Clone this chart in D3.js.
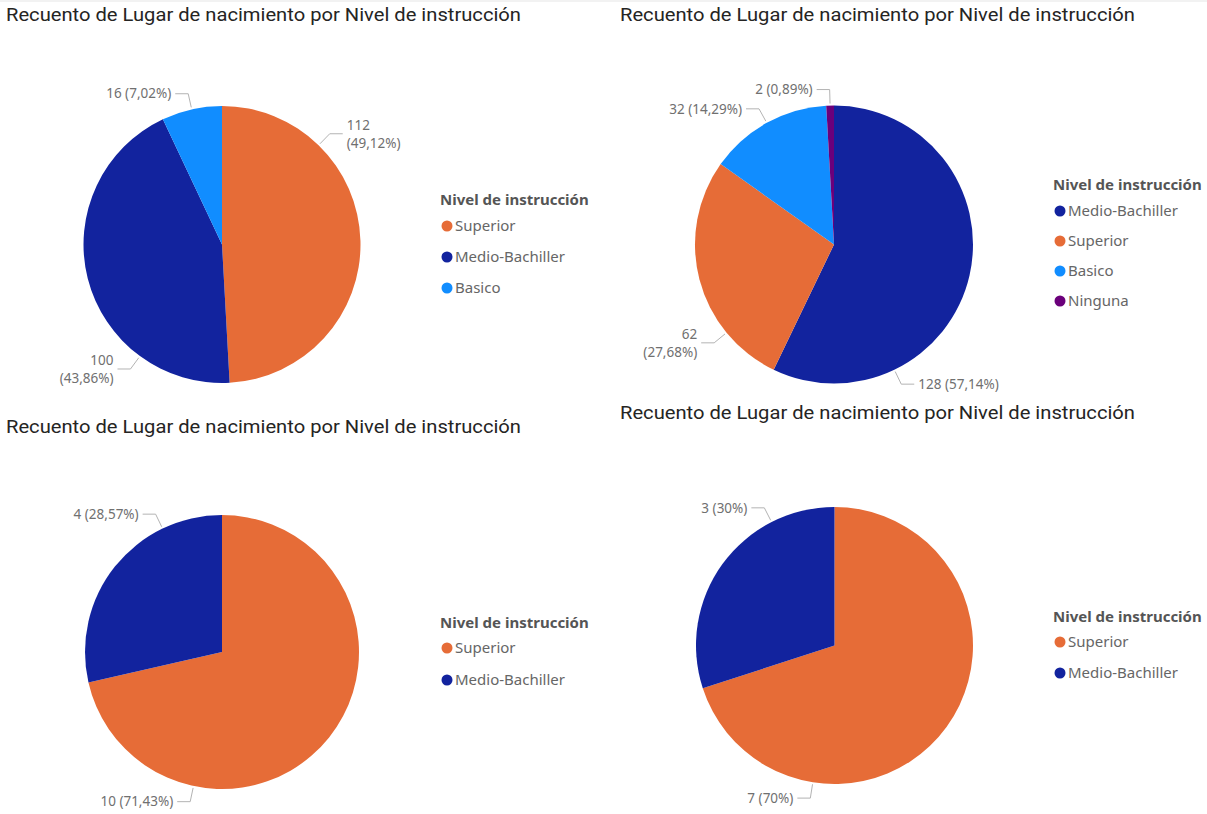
<!DOCTYPE html>
<html><head><meta charset="utf-8">
<script src="https://cdn.jsdelivr.net/npm/d3@7"></script>
<style>body{margin:0;background:#fff}svg{display:block}</style>
</head><body>
<svg id="chart" width="1207" height="814"></svg>
<script>
// ---- data ----
const chartTitle = "Recuento de Lugar de nacimiento por Nivel de instrucción";
const legendTitle = "Nivel de instrucción";
const allCategories = ["Superior", "Medio-Bachiller", "Basico", "Ninguna"];
const categoryColors = ["#E66C37", "#12239E", "#118DFF", "#6B007B"];

const categories1 = ["Superior", "Medio-Bachiller", "Basico"];
const values1 = [112, 100, 16];
const categories2 = ["Medio-Bachiller", "Superior", "Basico", "Ninguna"];
const values2 = [128, 62, 32, 2];
const categories3 = ["Superior", "Medio-Bachiller"];
const values3 = [10, 4];
const categories4 = ["Superior", "Medio-Bachiller"];
const values4 = [7, 3];

// ---- layout ----
const panels = [
  {cats: categories1, vals: values1, tx: 6, ty: 21, cx: 222, cy: 244.5, r: 138.5, lx: 440, lty: 200, ly: 226, ls: 31},
  {cats: categories2, vals: values2, tx: 620, ty: 21, cx: 834, cy: 244.5, r: 139, lx: 1053, lty: 185, ly: 211, ls: 30},
  {cats: categories3, vals: values3, tx: 6, ty: 433, cx: 222, cy: 652, r: 137, lx: 440, lty: 623, ly: 648, ls: 32},
  {cats: categories4, vals: values4, tx: 620, ty: 419, cx: 834.5, cy: 645.5, r: 138.5, lx: 1053, lty: 617, ly: 642, ls: 31}
];

const svg = d3.select("#chart");
svg.append("rect").attr("x", 0).attr("y", 0).attr("width", 1207).attr("height", 2).attr("fill", "#f2f2f2");

const color = d3.scaleOrdinal().domain(allCategories).range(categoryColors);
const pctFmt = d3.format(".2~f");
const TAU = Math.PI * 2;
const deg = Math.PI / 180;

panels.forEach(p => {
  const g = svg.append("g");
  g.append("text").attr("x", p.tx).attr("y", p.ty)
    .attr("font-family", "Roboto, 'Noto Sans', sans-serif").attr("font-size", 18)
    .attr("fill", "#252423").attr("textLength", 515).attr("lengthAdjust", "spacingAndGlyphs")
    .text(chartTitle);

  const data = p.cats.map((c, i) => ({cat: c, val: p.vals[i]}));
  const total = d3.sum(data, d => d.val);
  const arcs = d3.pie().sort(null).value(d => d.val)(data);
  const arc = d3.arc().innerRadius(0).outerRadius(p.r);
  const pg = g.append("g").attr("transform", `translate(${p.cx},${p.cy})`);
  pg.selectAll("path").data(arcs).join("path")
    .attr("d", arc).attr("fill", d => color(d.data.cat));

  // labels
  arcs.forEach(a => {
    const span = a.endAngle - a.startAngle;
    const mid = (a.startAngle + a.endAngle) / 2;
    let ang;
    if (span < 60 * deg) ang = mid;
    else {
      const topT = -12 * deg, botT = 192 * deg;
      const dTop = Math.min(Math.abs(mid - 0), Math.abs(mid - TAU));
      const dBot = Math.abs(mid - Math.PI);
      let target = dTop <= dBot ? (mid > Math.PI ? TAU + topT : topT) : botT;
      const m = span / 4;
      ang = Math.max(a.startAngle + m, Math.min(a.endAngle - m, target));
    }
    const sx = Math.sin(ang), sy = -Math.cos(ang);
    const p0 = [sx * (p.r + 2), sy * (p.r + 2)];
    const p1 = [sx * (p.r + 16), sy * (p.r + 16)];
    const dir = sx >= 0 ? 1 : -1;
    const p2 = [p1[0] + dir * 13, p1[1]];
    pg.append("polyline").attr("points", [p0, p1, p2].map(q => q.join(",")).join(" "))
      .attr("fill", "none").attr("stroke", "#b3b3b3").attr("stroke-width", 1);
    const pct = pctFmt(a.data.val / total * 100).replace(".", ",");
    const t = pg.append("text").attr("x", p2[0] + dir * 4).attr("y", p2[1])
      .attr("text-anchor", dir > 0 ? "start" : "end")
      .attr("font-family", "'Noto Sans', sans-serif").attr("font-size", 13.5)
      .attr("fill", "#707070");
    if (Math.abs(p1[1]) < 0.93 * p.r) {
      t.append("tspan").attr("x", p2[0] + dir * 4).attr("dy", "-0.3em").text(a.data.val);
      t.append("tspan").attr("x", p2[0] + dir * 4).attr("dy", "1.35em").text(`(${pct}%)`);
    } else {
      t.attr("dy", "0.35em").text(`${a.data.val} (${pct}%)`);
    }
  });

  // legend
  const lg = g.append("g");
  lg.append("text").attr("x", p.lx).attr("y", p.lty).attr("dy", "0.35em")
    .attr("font-family", "'Noto Sans', sans-serif").attr("font-size", 15).attr("font-weight", "bold")
    .attr("fill", "#555").text(legendTitle);
  const items = lg.selectAll("g.item").data(p.cats).join("g")
    .attr("transform", (d, i) => `translate(${p.lx},${p.ly + i * p.ls})`);
  items.append("circle").attr("cx", 7).attr("cy", 0).attr("r", 5.5).attr("fill", d => color(d));
  items.append("text").attr("x", 15).attr("y", 0).attr("dy", "0.35em")
    .attr("font-family", "'Noto Sans', sans-serif").attr("font-size", 15)
    .attr("fill", "#666").text(d => d);
});
</script>
</body></html>
